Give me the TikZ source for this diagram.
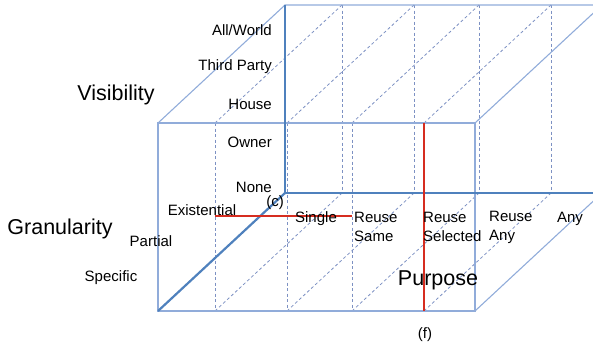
\documentclass[tikz,border=0pt]{standalone}
\usepackage{fontspec}
\setmainfont{Liberation Sans}
\usetikzlibrary{positioning}
\definecolor{edgeblue}{RGB}{79,129,189}
\definecolor{gridblue}{RGB}{145,172,218}
\definecolor{dashblue}{RGB}{125,145,195}
\definecolor{cutred}{RGB}{214,45,32}

\begin{document}
\begin{tikzpicture}[x=1pt, y=-1pt,
    level/.style={font=\fontsize{15}{19}\selectfont, inner sep=0pt, align=left},
    axisname/.style={font=\fontsize{21.5}{24}\selectfont, inner sep=0pt},
    edge/.style={draw=gridblue, line width=1.1pt},
    grid/.style={draw=dashblue, line width=0.8pt, dash pattern=on 3pt off 2.5pt},
    axis/.style={draw=edgeblue, line width=2.2pt},
    cut/.style={draw=cutred, line width=2.2pt}]

    \path[use as bounding box] (0,0) rectangle (593,348);
    \clip (0,0) rectangle (593,348);

    % Cube corners
    \coordinate (ftl) at (158,123);
    \coordinate (ftr) at (475,123);
    \coordinate (fbl) at (158,311);
    \coordinate (fbr) at (475,311);
    \coordinate (btl) at (285,5);
    \coordinate (btr) at (602,5);
    \coordinate (bbl) at (285,193);
    \coordinate (bbr) at (602,193);

    % Grid
    \foreach \x in {215,287,352}
        \path [grid] (\x,123) -- (\x,311);
    \foreach \x in {342,414,479,551}
        \path [grid] (\x,5) -- (\x,193);
    \foreach \x in {215,287,352,424} {
        \path [grid] (\x,123) -- ++(127,-118);
        \path [grid] (\x,311) -- ++(127,-118);
    }

    % Cube edges
    \path [edge] (ftl) rectangle (fbr);
    \path [edge] (ftl) -- (btl) -- (btr);
    \path [edge] (ftr) -- (btr);
    \path [edge] (fbr) -- (bbr);

    % Axes
    \path [axis] (btl) -- (bbl) -- (bbr);
    \path [axis] (fbl) -- (bbl);

    % Cuts
    \path [cut] (215,216) -- (352,216);
    \path [cut] (424,123) -- (424,311);

    % Visibility
    \node [axisname] (visibility) at (116,95) {Visibility};
    \node [level, anchor=east] (world) at (272,30) {All/World};
    \node [level, anchor=east] (third) at (272,67) {Third Party};
    \node [level, anchor=east] (house) at (272,104) {House};
    \node [level, anchor=east] (owner) at (272,142) {Owner};
    \node [level, anchor=east] (none) at (272,187) {None};
    \node [level] (c) at (275,203) {(c)};

    % Granularity
    \node [axisname] (granularity) at (60,229) {Granularity};
    \node [level] (existential) at (202,210) {Existential};
    \node [level] (partial) at (151,241) {Partial};
    \node [level] (specific) at (111,278) {Specific};

    % Purpose
    \node [level] (single) at (316,219) {Single};
    \node [level, anchor=west] (same) at (354,227) {Reuse\\Same};
    \node [level, anchor=west] (selected) at (423,227) {Reuse\\Selected};
    \node [level, anchor=west] (reuseany) at (489,227) {Reuse\\Any};
    \node [level] (any) at (570,219) {Any};
    \node [axisname] (purpose) at (438,280) {Purpose};
    \node [level] (f) at (425,335) {(f)};

\end{tikzpicture}
\end{document}
